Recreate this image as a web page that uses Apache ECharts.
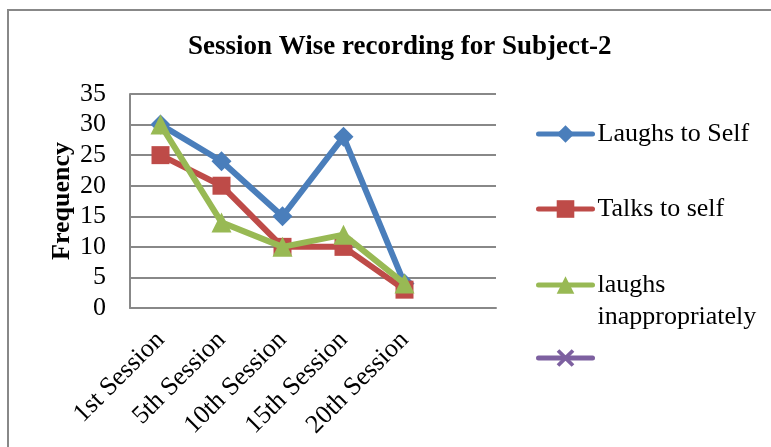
<!DOCTYPE html>
<html>
<head>
<meta charset="utf-8">
<script src="https://cdn.jsdelivr.net/npm/echarts@6/dist/echarts.min.js"></script>
<style>html,body{margin:0;padding:0;background:#fff;}#c{width:771px;height:447px;}</style>
</head>
<body>
<div id="c"></div>
<script>
const categories = ['1st Session', '5th Session', '10th Session', '15th Session', '20th Session', ''];
const laughsToSelf = [30, 24, 15, 28, 4, null];
const talksToSelf = [25, 20, 10, 10, 3, null];
const laughsInappropriately = [30, 14, 10, 12, 4, null];
const emptySeries = [null, null, null, null, null, null];
const seriesNames = ['Laughs to Self', 'Talks to self', 'laughs inappropriately', ' '];
const yTicks = { min: 0, max: 35, interval: 5 };

const FONT = '"Liberation Serif", "Times New Roman", serif';
const FS = 26;
const chart = echarts.init(document.getElementById('c'));
const xPath = 'path://M0,1.5 L1.5,0 L5,3.5 L8.5,0 L10,1.5 L6.5,5 L10,8.5 L8.5,10 L5,6.5 L1.5,10 L0,8.5 L3.5,5 Z';

function legendFor(name, top, extra) {
  return Object.assign({
    data: [name], left: 536, top: top, orient: 'vertical', padding: 0,
    itemWidth: 54, itemHeight: 22, itemGap: 0,
    selectedMode: false,
    lineStyle: { width: 5, cap: 'round' },
    textStyle: { fontFamily: FONT, fontSize: FS, color: '#000' }
  }, extra || {});
}

chart.setOption({
  animation: false,
  backgroundColor: '#fff',
  graphic: [{
    type: 'rect', shape: { x: 8, y: 10, width: 900, height: 600 },
    style: { fill: 'none', stroke: '#888', lineWidth: 2 }, silent: true
  }],
  title: {
    text: 'Session Wise recording for Subject-2',
    left: 188, top: 34, padding: 0,
    textStyle: { fontFamily: FONT, fontSize: 27, fontWeight: 'bold', color: '#000' }
  },
  legend: [
    legendFor(seriesNames[0], 134 - 13),
    legendFor(seriesNames[1], 209 - 13),
    legendFor(seriesNames[2], 285 - 48, {
      formatter: function () { return ' \nlaughs\ninappropriately'; },
      textStyle: { fontFamily: FONT, fontSize: FS, color: '#000', lineHeight: 32 }
    }),
    legendFor(seriesNames[3], 358 - 13)
  ],
  grid: { left: 130, right: 275, top: 94, bottom: 139 },
  xAxis: {
    type: 'category', data: categories, boundaryGap: true,
    axisLine: { lineStyle: { color: '#888', width: 2 } },
    axisTick: { show: false },
    axisLabel: { rotate: 45, interval: 0, margin: 28, fontFamily: FONT, fontSize: FS, color: '#000' }
  },
  yAxis: {
    type: 'value', min: yTicks.min, max: yTicks.max, interval: yTicks.interval,
    name: 'Frequency', nameLocation: 'middle', nameGap: 55,
    nameTextStyle: { fontFamily: FONT, fontSize: FS, fontWeight: 'bold', color: '#000' },
    axisLine: { show: true, lineStyle: { color: '#888', width: 2 } },
    axisTick: { show: false },
    splitLine: { lineStyle: { color: '#888', width: 2 } },
    axisLabel: { margin: 24, fontFamily: FONT, fontSize: FS, color: '#000' }
  },
  series: [
    { name: seriesNames[0], type: 'line', data: laughsToSelf, color: '#4A7EBB',
      symbol: 'diamond', symbolSize: 20, lineStyle: { width: 6 }, z: 3 },
    { name: seriesNames[1], type: 'line', data: talksToSelf, color: '#BE4B48',
      symbol: 'rect', symbolSize: 18, lineStyle: { width: 6 }, z: 4 },
    { name: seriesNames[2], type: 'line', data: laughsInappropriately, color: '#98B954',
      symbol: 'triangle', symbolSize: 20, lineStyle: { width: 6 }, z: 5 },
    { name: seriesNames[3], type: 'line', data: emptySeries, color: '#7D60A0',
      symbol: xPath, symbolSize: 18, lineStyle: { width: 6 }, z: 6 }
  ]
});
</script>
</body>
</html>
